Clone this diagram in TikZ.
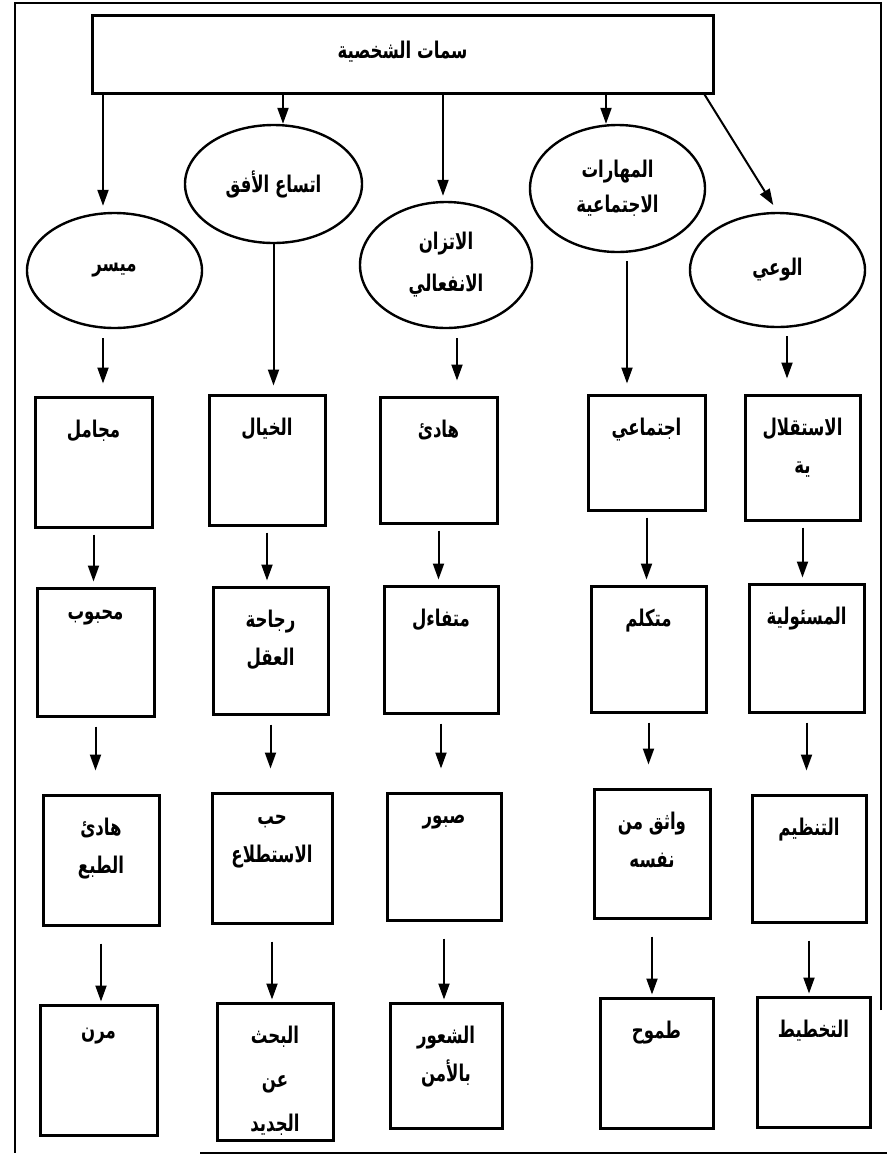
\documentclass[tikz,border=0pt]{standalone}
\usepackage{fontspec}
\TeXXeTstate=1
\newfontfamily\arabicfont[Script=Arabic,FakeStretch=0.72]{DejaVu Sans}
\usetikzlibrary{shapes.geometric,arrows.meta}
\newcommand{\AR}[1]{\beginR #1\endR}
\begin{document}
\begin{tikzpicture}[x=0.5pt,y=-0.5pt,
  every node/.style={font=\arabicfont\bfseries\fontsize{11.5}{19}\selectfont},
  bx/.style={draw,line width=1.5pt,rectangle,inner sep=0},
  el/.style={draw,line width=1.2pt,ellipse,inner sep=0,align=center},
  lab/.style={anchor=north,yshift=-8.5pt,align=center},
  arr/.style={line width=1pt,-{Triangle[width=5.5pt,length=8pt]}},
  fr/.style={line width=1pt}]
\useasboundingbox (0,0) rectangle (887,1163);
\draw[fr] (881,1010) -- (881,3) -- (15,3) -- (15,1153);
\draw[fr] (200,1153) -- (887,1153);
% top box
\node[bx,minimum width=310.5pt,minimum height=39pt,text height=12pt,text depth=8pt] (top) at (402.5,54) {\AR{سمات الشخصية}};
% ellipses
\node[el,minimum width=87.5pt,minimum height=57.5pt] (e1) at (114.5,270.5) {\AR{ميسر}};
\node[el,minimum width=88.5pt,minimum height=59pt] (e2) at (273.5,184) {\AR{اتساع الأفق}};
\node[el,minimum width=86pt,minimum height=63pt,font=\arabicfont\bfseries\fontsize{11.5}{21}\selectfont] (e3) at (446,265) {\AR{الاتزان}\\\AR{الانفعالي}};
\node[el,minimum width=87.5pt,minimum height=63.5pt,font=\arabicfont\bfseries\fontsize{11.5}{17.5}\selectfont] (e4) at (617.5,188.5) {\AR{المهارات}\\\AR{الاجتماعية}};
\node[el,minimum width=87.5pt,minimum height=57pt] (e5) at (777.5,270) {\AR{الوعي}};
% row 1
\node[bx,minimum width=58.5pt,minimum height=65pt,label={[lab]north:{\AR{مجامل}}}] (a1) at (93.5,462) {};
\node[bx,minimum width=58pt,minimum height=65pt,label={[lab]north:{\AR{الخيال}}}] (a2) at (267,460) {};
\node[bx,minimum width=58.5pt,minimum height=63pt,label={[lab]north:{\AR{هادئ}}}] (a3) at (438.5,460) {};
\node[bx,minimum width=58.5pt,minimum height=57.5pt,label={[lab]north:{\AR{اجتماعي}}}] (a4) at (646.5,452.5) {};
\node[bx,minimum width=57.5pt,minimum height=62.5pt,label={[lab]north:{\AR{الاستقلال}\\\AR{ية}}}] (a5) at (802.5,457.5) {};
% row 2
\node[bx,minimum width=58.5pt,minimum height=64pt,label={[lab]north:{\AR{محبوب}}}] (b1) at (95.5,652) {};
\node[bx,minimum width=57.5pt,minimum height=63.5pt,label={[lab]north:{\AR{رجاحة}\\\AR{العقل}}}] (b2) at (270.5,650.5) {};
\node[bx,minimum width=57pt,minimum height=63.5pt,label={[lab]north:{\AR{متفاءل}}}] (b3) at (441,649.5) {};
\node[bx,minimum width=57.5pt,minimum height=63pt,label={[lab]north:{\AR{متكلم}}}] (b4) at (648.5,649) {};
\node[bx,minimum width=57.5pt,minimum height=64pt,label={[lab]north:{\AR{المسئولية}}}] (b5) at (806.5,648) {};
% row 3
\node[bx,minimum width=58pt,minimum height=65pt,label={[lab]north:{\AR{هادئ}\\\AR{الطبع}}}] (c1) at (101,860) {};
\node[bx,minimum width=60pt,minimum height=65pt,label={[lab]north:{\AR{حب}\\\AR{الاستطلاع}}}] (c2) at (272,858) {};
\node[bx,minimum width=57pt,minimum height=63.5pt,label={[lab]north:{\AR{صبور}}}] (c3) at (444,856.5) {};
\node[bx,minimum width=58pt,minimum height=64.5pt,label={[lab]north:{\AR{واثق من}\\\AR{نفسه}}}] (c4) at (652,853.5) {};
\node[bx,minimum width=57pt,minimum height=63.5pt,label={[lab]north:{\AR{التنظيم}}}] (c5) at (809,858.5) {};
% row 4
\node[bx,minimum width=58.5pt,minimum height=65pt,label={[lab]north:{\AR{مرن}}}] (d1) at (98.5,1070) {};
\node[bx,minimum width=58pt,minimum height=68.5pt,label={[lab,font=\arabicfont\bfseries\fontsize{11.5}{22}\selectfont]north:{\AR{البحث}\\\AR{عن}\\\AR{الجديد}}}] (d2) at (275,1071.5) {};
\node[bx,minimum width=56pt,minimum height=62.5pt,label={[lab]north:{\AR{الشعور}\\\AR{بالأمن}}}] (d3) at (446,1065.5) {};
\node[bx,minimum width=56.5pt,minimum height=65pt,label={[lab]north:{\AR{طموح}}}] (d4) at (656.5,1063) {};
\node[bx,minimum width=56.5pt,minimum height=65pt,label={[lab]north:{\AR{التخطيط}}}] (d5) at (813.5,1062) {};
% attachment points
\coordinate (n1) at ([xshift=-5.75pt]e1.north);
\coordinate (n2) at ([xshift=4.75pt]e2.north);
\coordinate (n3) at ([xshift=-1.5pt]e3.north);
\coordinate (n4) at ([xshift=-5.75pt]e4.north);
\coordinate (s1) at ([xshift=-5.75pt]e1.south);
\coordinate (s3) at ([xshift=5.5pt]e3.south);
\coordinate (s4) at ([xshift=4.75pt]e4.south);
\coordinate (s5) at ([xshift=4.75pt]e5.south);
% arrows from top
\draw[arr,shorten >=3pt] (top.south -| n1) -- (n1);
\draw[arr] (top.south -| n2) -- (n2);
\draw[arr,shorten >=2.5pt] (top.south -| n3) -- (n3);
\draw[arr] (top.south -| n4) -- (n4);
\draw[arr,shorten >=4pt] ([xshift=-5pt]top.south east) -- (e5.north);
% ellipses to row 1
\draw[arr,shorten <=4.5pt,shorten >=6pt] (s1) -- (s1 |- a1.north);
\draw[arr,shorten >=4pt] (e2.south) -- (e2.south |- a2.north);
\draw[arr,shorten <=4.5pt,shorten >=7.5pt] (s3) -- (s3 |- a3.north);
\draw[arr,shorten <=4pt,shorten >=5pt] (s4) -- (s4 |- a4.north);
\draw[arr,shorten <=4pt,shorten >=7.5pt] (s5) -- (s5 |- a5.north);
% row arrows
\foreach \u/\v in {a1/b1,a2/b2,a3/b3,a4/b4,a5/b5}
  \draw[arr,shorten <=3pt,shorten >=2.5pt] (\u.south) -- (\u.south |- \v.north);
\foreach \u/\v in {b1/c1,b2/c2,b3/c3,b4/c4,b5/c5}
  \draw[arr,shorten <=4.5pt,shorten >=11.5pt] (\u.south) -- (\u.south |- \v.north);
\foreach \u/\v in {c1/d1,c2/d2,c3/d3,c4/d4,c5/d5}
  \draw[arr,shorten <=8.5pt,shorten >=1pt] (\u.south) -- (\u.south |- \v.north);
\end{tikzpicture}
\end{document}
